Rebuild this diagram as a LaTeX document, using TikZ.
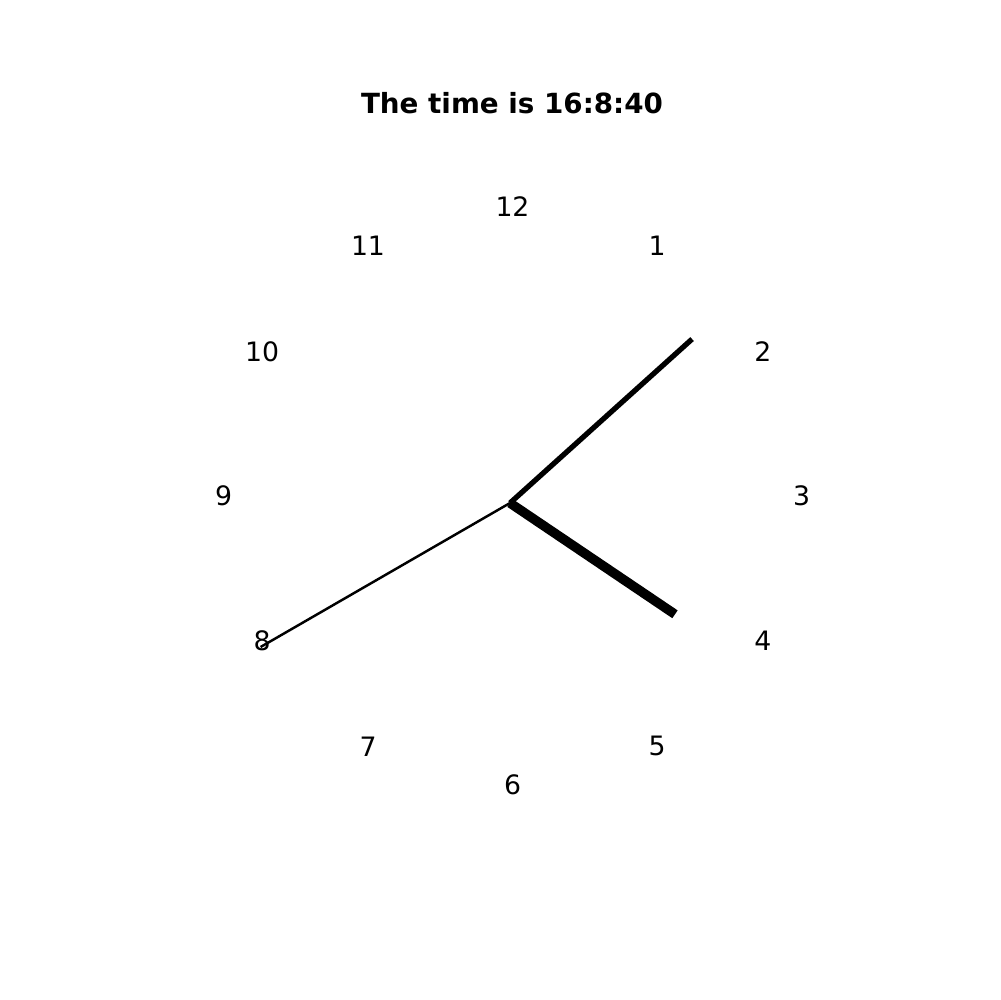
\documentclass[tikz,border=0pt]{standalone}
\usepackage{fontspec}
\setmainfont{DejaVu Sans}
\usepackage{tikz}
\usetikzlibrary{calc}

\begin{document}
\begin{tikzpicture}[
        x=0.1mm,y=-0.1mm,
        title/.style={inner sep=0pt,font=\fontsize{7.9}{10}\selectfont\bfseries},
        numeral/.style={inner sep=0pt,font=\fontsize{7.6}{9}\selectfont},
        hourhand/.style={line width=2.7pt,draw=black},
        minutehand/.style={line width=1.5pt,draw=black},
        secondhand/.style={line width=0.7pt,draw=black}
      ]
        \useasboundingbox (0,0) rectangle (1000,1000);
        \node[title] (caption) at (512,103) {The time is 16:8:40};
        \foreach \h in {1,...,12}
          \node[numeral] (num\h) at ({512.5+289*sin(30*\h)},{496-289*cos(30*\h)}) {\h};
        \coordinate (pivot) at (510,503);
        \coordinate (hourtip) at ($(pivot)+({199*sin(124)},{-199*cos(124)})$);
        \coordinate (minutetip) at ($(pivot)+({245*sin(48)},{-245*cos(48)})$);
        \coordinate (secondtip) at ($(pivot)+({288*sin(240)},{-288*cos(240)})$);
        \draw[secondhand] (pivot) -- (secondtip);
        \draw[minutehand] (pivot) -- (minutetip);
        \draw[hourhand] (pivot) -- (hourtip);
      \end{tikzpicture}
\end{document}
